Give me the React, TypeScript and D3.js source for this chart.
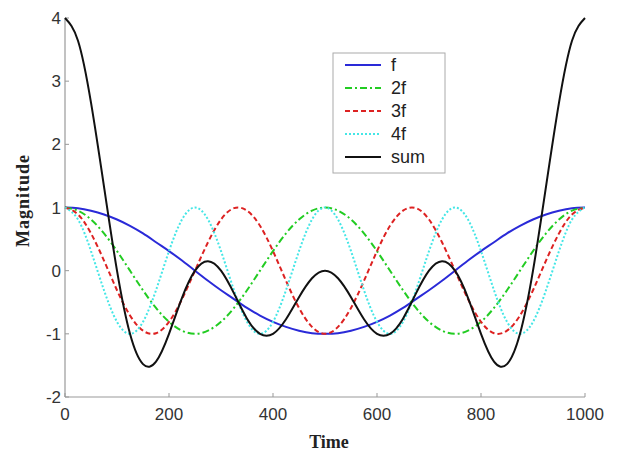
import React, { useEffect } from "react";
import * as d3 from "d3";

const times = [0,25,50,75,100,125,150,175,200,225,250,275,300,325,350,375,400,425,450,475,500,525,550,575,600,625,650,675,700,725,750,775,800,825,850,875,900,925,950,975,1000];
const f1 = [1,.99,.95,.89,.81,.71,.59,.45,.31,.16,0,-.16,-.31,-.45,-.59,-.71,-.81,-.89,-.95,-.99,-1,-.99,-.95,-.89,-.81,-.71,-.59,-.45,-.31,-.16,0,.16,.31,.45,.59,.71,.81,.89,.95,.99,1];
const f2 = [1,.95,.81,.59,.31,0,-.31,-.59,-.81,-.95,-1,-.95,-.81,-.59,-.31,0,.31,.59,.81,.95,1,.95,.81,.59,.31,0,-.31,-.59,-.81,-.95,-1,-.95,-.81,-.59,-.31,0,.31,.59,.81,.95,1];
const f3 = [1,.89,.59,.16,-.31,-.71,-.95,-.99,-.81,-.45,0,.45,.81,.99,.95,.71,.31,-.16,-.59,-.89,-1,-.89,-.59,-.16,.31,.71,.95,.99,.81,.45,0,-.45,-.81,-.99,-.95,-.71,-.31,.16,.59,.89,1];
const f4 = [1,.81,.31,-.31,-.81,-1,-.81,-.31,.31,.81,1,.81,.31,-.31,-.81,-1,-.81,-.31,.31,.81,1,.81,.31,-.31,-.81,-1,-.81,-.31,.31,.81,1,.81,.31,-.31,-.81,-1,-.81,-.31,.31,.81,1];
const fsum = [4,3.64,2.66,1.33,0,-1.0,-1.48,-1.44,-1.0,-.43,0,.15,0,-.36,-.76,-1.0,-1.0,-.77,-.42,-.12,0,-.12,-.42,-.77,-1.0,-1.0,-.76,-.36,0,.15,0,-.43,-1.0,-1.44,-1.48,-1.0,0,1.33,2.66,3.64,4];
const seriesNames = ["f", "2f", "3f", "4f", "sum"];
const xTicks = [0, 200, 400, 600, 800, 1000];
const yTicks = [-2, -1, 0, 1, 2, 3, 4];

const styles = [
  { color: "#2a2ad8", dash: "none", width: 2 },
  { color: "#22cc22", dash: "7,3,2,3", width: 2 },
  { color: "#dd2222", dash: "5,3", width: 2 },
  { color: "#44e6e6", dash: "2,2", width: 2 },
  { color: "#111111", dash: "none", width: 2 },
];

export default function App() {
  useEffect(() => {
    document.body.style.margin = "0";
  }, []);
  const W = 619, H = 454;
  const x = d3.scaleLinear().domain([0, 1000]).range([65, 585]);
  const y = d3.scaleLinear().domain([-2, 4]).range([397, 18]);
  const data = [f1, f2, f3, f4, fsum];
  const line = (vals: number[]) =>
    d3.line<number>().x((_, i) => x(times[i])).y((v) => y(v)).curve(d3.curveNatural)(vals) || "";
  const axisColor = "#999";
  const sans = "Liberation Sans, Arial, sans-serif";
  const serif = "Liberation Serif, Times New Roman, serif";
  const lx = 333, ly = 53, lw = 112, lh = 120;
  return (
    <svg width={W} height={H} style={{ display: "block", background: "#fff" }}>
      <line x1={x(0)} x2={x(0)} y1={y(-2)} y2={y(4)} stroke={axisColor} strokeWidth={1.2} />
      <line x1={x(0)} x2={x(1000)} y1={y(-2)} y2={y(-2)} stroke={axisColor} strokeWidth={1.2} />
      {yTicks.map((t) => (
        <g key={"y" + t}>
          <line x1={x(0)} x2={x(0) + 4} y1={y(t)} y2={y(t)} stroke={axisColor} />
          <text x={x(0) - 4} y={y(t)} dy="0.36em" textAnchor="end" fontFamily={sans} fontSize={17} fill="#333">{t}</text>
        </g>
      ))}
      {xTicks.map((t) => (
        <g key={"x" + t}>
          <line x1={x(t)} x2={x(t)} y1={y(-2)} y2={y(-2) - 4} stroke={axisColor} />
          <text x={x(t)} y={420} textAnchor="middle" fontFamily={sans} fontSize={17} fill="#333">{t}</text>
        </g>
      ))}
      {data.map((vals, i) => (
        <path key={i} d={line(vals)} fill="none" stroke={styles[i].color} strokeWidth={styles[i].width}
          strokeDasharray={styles[i].dash === "none" ? undefined : styles[i].dash} />
      ))}
      <rect x={lx} y={ly} width={lw} height={lh} fill="#fff" stroke="#aaa" strokeWidth={1} />
      {seriesNames.map((n, i) => {
        const yy = ly + 12 + i * 23;
        return (
          <g key={n}>
            <line x1={lx + 12} x2={lx + 48} y1={yy} y2={yy} stroke={styles[i].color} strokeWidth={2}
              strokeDasharray={styles[i].dash === "none" ? undefined : styles[i].dash} />
            <text x={lx + 58} y={yy} dy="0.36em" fontFamily={sans} fontSize={18} fill="#222">{n}</text>
          </g>
        );
      })}
      <text x={329} y={448} textAnchor="middle" fontFamily={serif} fontWeight="bold" fontSize={18} fill="#222">Time</text>
      <text transform={`translate(23,201) rotate(-90)`} textAnchor="middle" dy="0.35em" fontFamily={serif} fontWeight="bold" fontSize={18} textLength={92} lengthAdjust="spacing" fill="#222">Magnitude</text>
    </svg>
  );
}
